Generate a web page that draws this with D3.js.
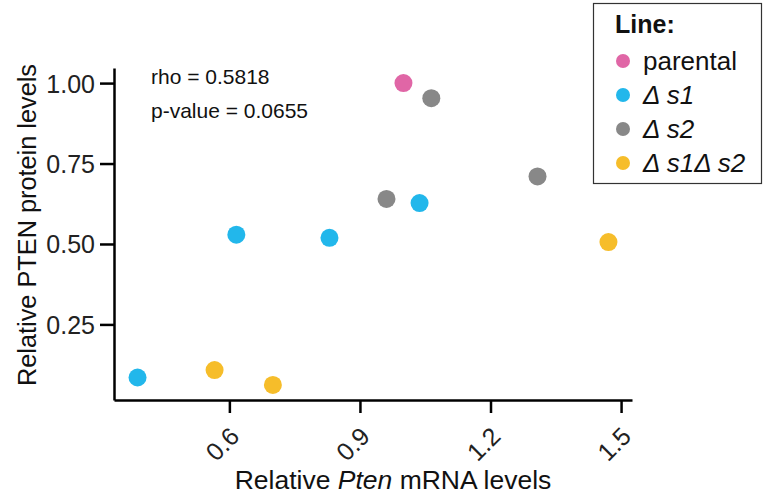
<!DOCTYPE html>
<html lang="en">
<head>
<meta charset="UTF-8">
<title>Pten scatter</title>
<script src="https://cdn.jsdelivr.net/npm/d3@7"></script>
<style>
  body { margin: 0; background: #fff; }
  text { font-family: "Liberation Sans", Arial, Helvetica, sans-serif; }
</style>
</head>
<body>
<svg width="770" height="500"></svg>
<script>
// groups and their colours
var lines = ['parental', 'Δ s1', 'Δ s2', 'Δ s1Δ s2'];
var colors = ['#e066a6', '#22b7eb', '#888888', '#f6bd2a'];

// one entry per sample
var line = ['parental', 'Δ s1', 'Δ s1', 'Δ s1', 'Δ s1', 'Δ s2', 'Δ s2', 'Δ s2', 'Δ s1Δ s2', 'Δ s1Δ s2', 'Δ s1Δ s2'];
var mrna = [1.00, 0.389, 0.616, 0.830, 1.037, 1.064, 0.961, 1.308, 0.566, 0.700, 1.471];
var protein = [1.00, 0.085, 0.529, 0.519, 0.627, 0.953, 0.640, 0.710, 0.108, 0.062, 0.506];

var xTicks = [0.6, 0.9, 1.2, 1.5];
var yTicks = [0.25, 0.50, 0.75, 1.00];
var stats = ['rho = 0.5818', 'p-value = 0.0655'];

var svg = d3.select('svg');
var mLeft = 114, mRight = 632, mTop = 68, mBottom = 400;

// ggplot style 5% padding
function expand(v) {
    var e = d3.extent(v), p = (e[1] - e[0]) * 0.05;
    return [e[0] - p, e[1] + p];
}
var x = d3.scaleLinear().domain(expand(mrna)).range([mLeft, mRight]);
var y = d3.scaleLinear().domain(expand(protein)).range([mBottom, mTop]);
var color = d3.scaleOrdinal().domain(lines).range(colors);

var axX = svg.append('g').attr('transform', 'translate(0,' + mBottom + ')')
    .call(d3.axisBottom(x).tickValues(xTicks).tickSize(13).tickSizeOuter(0).tickFormat(d3.format('.1f')));
var axY = svg.append('g').attr('transform', 'translate(' + mLeft + ',0)')
    .call(d3.axisLeft(y).tickValues(yTicks).tickSize(14).tickSizeOuter(0).tickFormat(d3.format('.2f')));

[axX, axY].forEach(function (a) {
    a.select('.domain').attr('stroke', '#000').attr('stroke-width', 2.5);
    a.selectAll('.tick line').attr('stroke', '#000').attr('stroke-width', 2.5);
    a.selectAll('.tick text').attr('fill', '#222').style('font-size', '25px')
        .style('font-family', '"Liberation Sans", Arial, sans-serif');
});
axY.selectAll('.tick text').attr('x', -19).attr('dy', '0.36em');
axX.selectAll('.tick text')
    .attr('y', 0).attr('dy', 0)
    .attr('text-anchor', 'end')
    .attr('transform', 'translate(11,38) rotate(-45)');

// axis titles
svg.append('text')
    .attr('transform', 'translate(36,' + ((mTop + mBottom) / 2 - 9) + ') rotate(-90)')
    .attr('text-anchor', 'middle')
    .style('font-size', '25.3px').attr('fill', '#111')
    .text('Relative PTEN protein levels');

var xt = svg.append('text')
    .attr('x', 393).attr('y', 489)
    .attr('text-anchor', 'middle')
    .style('font-size', '26.5px').attr('fill', '#111');
xt.append('tspan').text('Relative ');
xt.append('tspan').style('font-style', 'italic').text('Pten');
xt.append('tspan').text(' mRNA levels');

// stats
svg.selectAll('.stat').data(stats).enter().append('text')
    .attr('class', 'stat')
    .attr('x', 151)
    .attr('y', function (d, i) { return 84 + i * 34; })
    .style('font-size', '21px').attr('fill', '#111')
    .text(function (d) { return d; });

// points
svg.selectAll('circle.pt').data(mrna).enter().append('circle')
    .attr('class', 'pt')
    .attr('cx', function (d) { return x(d); })
    .attr('cy', function (d, i) { return y(protein[i]); })
    .attr('r', 9)
    .attr('fill', function (d, i) { return color(line[i]); });

// legend
var lg = svg.append('g');
lg.append('rect').attr('x', 593.5).attr('y', 3.5).attr('width', 168).attr('height', 180)
    .attr('fill', '#fff').attr('stroke', '#333').attr('stroke-width', 1.2);
lg.append('text').attr('x', 615).attr('y', 33)
    .style('font-size', '25px').style('font-weight', 'bold').attr('fill', '#111')
    .text('Line:');
var items = lg.selectAll('.item').data(lines).enter().append('g')
    .attr('class', 'item')
    .attr('transform', function (d, i) { return 'translate(0,' + (61 + i * 34) + ')'; });
items.append('circle').attr('cx', 623).attr('cy', 0).attr('r', 7)
    .attr('fill', function (d) { return color(d); });
items.append('text').attr('x', 643).attr('y', 0).attr('dy', '0.36em')
    .style('font-size', '26px').attr('fill', '#111')
    .style('font-style', function (d, i) { return i ? 'italic' : 'normal'; })
    .text(function (d) { return d; });
</script>
</body>
</html>
